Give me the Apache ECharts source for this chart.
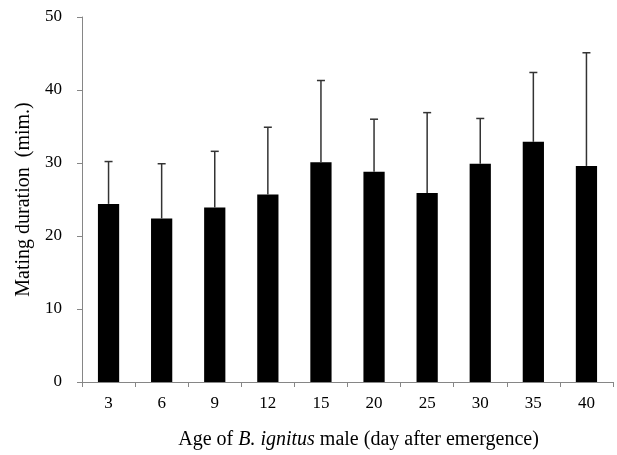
<!DOCTYPE html>
<html><head><meta charset="utf-8">
<script src="https://cdn.jsdelivr.net/npm/echarts@6/dist/echarts.min.js"></script>
<style>html,body{margin:0;padding:0;background:#fff}#c{width:617px;height:455px}</style>
</head><body><div id="c"></div>
<script>
const categories = ['3','6','9','12','15','20','25','30','35','40'];
const means = [24.4, 22.4, 23.9, 25.7, 30.1, 28.8, 25.9, 29.9, 32.9, 29.6];
const errors = [5.8, 7.5, 7.7, 9.2, 11.2, 7.2, 11.0, 6.2, 9.5, 15.5];
const yTicks = [0, 10, 20, 30, 40, 50];

const chart = echarts.init(document.getElementById('c'));
const font = '"Liberation Serif","Times New Roman",serif';
chart.setOption({
  animation: false,
  grid: {left: 82, right: 4, top: 17, bottom: 71},
  xAxis: {
    type: 'category', data: categories, boundaryGap: true,
    axisLine: {lineStyle: {color: '#868686', width: 1}},
    axisTick: {show: true, length: 5, lineStyle: {color: '#868686'}},
    axisLabel: {fontFamily: font, fontSize: 17, color: '#000', margin: 13},
    name: '{n|Age of }{i|B. ignitus}{n| male (day after emergence)}',
    nameLocation: 'middle', nameGap: 48,
    nameTextStyle: {
      padding: [0, 0, 0, 22],
      rich: {
        n: {fontFamily: font, fontSize: 20, color: '#000'},
        i: {fontFamily: font, fontSize: 20, fontStyle: 'italic', color: '#000'}
      }
    }
  },
  yAxis: {
    type: 'value', min: yTicks[0], max: yTicks[yTicks.length-1], interval: 10,
    splitLine: {show: false},
    axisLine: {show: true, lineStyle: {color: '#868686', width: 1}},
    axisTick: {show: true, length: 5, lineStyle: {color: '#868686'}},
    axisLabel: {fontFamily: font, fontSize: 17, color: '#000', margin: 20},
    name: 'Mating duration  (mim.)', nameLocation: 'middle', nameGap: 48,
    nameTextStyle: {fontFamily: font, fontSize: 20, color: '#000'}
  },
  series: [
    {
      type: 'bar', data: means, barWidth: '40%',
      itemStyle: {color: '#000'}, z: 2
    },
    {
      type: 'custom', z: 3,
      data: means.map((m, i) => [i, m, m + errors[i]]),
      renderItem: function (params, api) {
        const x = api.value(0);
        const lo = api.coord([x, api.value(1)]);
        const hi = api.coord([x, api.value(2)]);
        const cap = 4;
        return {
          type: 'group',
          children: [
            {type: 'line', shape: {x1: lo[0], y1: lo[1], x2: hi[0], y2: hi[1]}, style: {stroke: '#333', lineWidth: 1.5}},
            {type: 'line', shape: {x1: hi[0]-cap, y1: hi[1], x2: hi[0]+cap, y2: hi[1]}, style: {stroke: '#333', lineWidth: 1.5}}
          ]
        };
      }
    }
  ]
});
</script></body></html>
